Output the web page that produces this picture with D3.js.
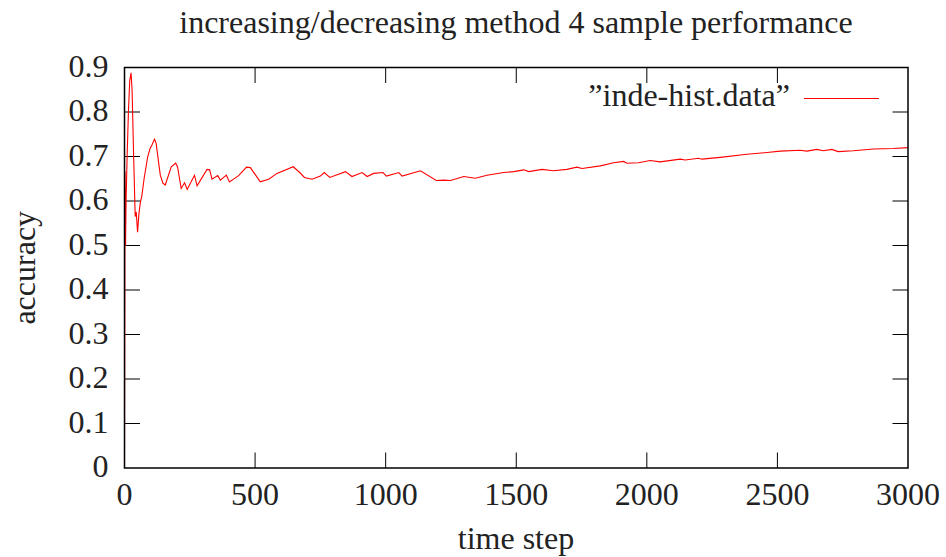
<!DOCTYPE html>
<html>
<head>
<meta charset="utf-8">
<script src="https://cdn.jsdelivr.net/npm/d3@7"></script>
<style>
  body { margin: 0; background: #fff; }
  text { font-family: "Liberation Serif", "Times New Roman", serif; fill: #222; }
</style>
</head>
<body>
<div id="chart"></div>
<script>
// accuracy over time steps
const steps = [0, 2, 4, 6, 10, 15, 20, 25, 29, 35, 41, 45, 50, 55, 61, 66, 75, 89, 98, 105, 115, 121,
  137, 147, 156, 179, 196, 203, 217, 230, 240, 268, 278, 316, 326, 335, 357, 367, 390, 402, 437,
  467, 482, 520, 552, 584, 646, 671, 689, 718, 750, 765, 786, 846, 871, 910, 929, 954, 990, 1003,
  1050, 1063, 1133, 1194, 1222, 1248, 1299, 1343, 1388, 1452, 1490, 1529, 1548, 1599, 1643, 1694,
  1732, 1752, 1822, 1873, 1911, 1924, 1968, 2013, 2051, 2128, 2147, 2198, 2211, 2281, 2383, 2460,
  2511, 2587, 2613, 2651, 2676, 2708, 2733, 2791, 2868, 2944, 3000];
const accuracy = [0, 0.667, 0.5, 0.6, 0.7, 0.8, 0.87, 0.888, 0.85, 0.7, 0.565, 0.575, 0.53, 0.57, 0.598, 0.61, 0.65, 0.70, 0.718, 0.726, 0.739, 0.73,
  0.658, 0.64, 0.636, 0.677, 0.685, 0.677, 0.628, 0.641, 0.626, 0.658, 0.634, 0.671, 0.67, 0.649, 0.657, 0.647, 0.658, 0.643, 0.657,
  0.676, 0.675, 0.643, 0.649, 0.662, 0.677, 0.664, 0.653, 0.649, 0.656, 0.664, 0.653, 0.666, 0.655, 0.664, 0.655, 0.662, 0.664, 0.656,
  0.664, 0.656, 0.668, 0.646, 0.647, 0.646, 0.655, 0.651, 0.658, 0.664, 0.666, 0.67, 0.666, 0.671, 0.668, 0.671,
  0.676, 0.673, 0.679, 0.686, 0.689, 0.685, 0.686, 0.691, 0.688, 0.694, 0.692, 0.696, 0.694, 0.698, 0.705, 0.709,
  0.712, 0.714, 0.712, 0.716, 0.713, 0.716, 0.711, 0.713, 0.717, 0.718, 0.72];
const xTicks = [0, 500, 1000, 1500, 2000, 2500, 3000];
const yTicks = [0, 0.1, 0.2, 0.3, 0.4, 0.5, 0.6, 0.7, 0.8, 0.9];

const width = 946, height = 557;
const margin = {top: 67.5, right: 38, bottom: 89, left: 124.5};
const tickLen = 15.5;
const fontSize = 32;

const svg = d3.select("#chart").append("svg")
  .attr("width", width)
  .attr("height", height);

const x = d3.scaleLinear().domain([0, 3000]).range([margin.left, width - margin.right]);
const y = d3.scaleLinear().domain([0, 0.9]).range([height - margin.bottom, margin.top]);

// inward ticks on all four sides (mirrored)
svg.append("g").selectAll("line")
  .data(xTicks.slice(1, -1))
  .enter().append("line")
  .attr("x1", d => x(d)).attr("x2", d => x(d))
  .attr("y1", y(0)).attr("y2", y(0) - tickLen)
  .attr("stroke", "#000");
svg.append("g").selectAll("line")
  .data(xTicks.slice(1, -1))
  .enter().append("line")
  .attr("x1", d => x(d)).attr("x2", d => x(d))
  .attr("y1", y(0.9)).attr("y2", y(0.9) + tickLen)
  .attr("stroke", "#000");
svg.append("g").selectAll("line")
  .data(yTicks.slice(1, -1))
  .enter().append("line")
  .attr("x1", x(0)).attr("x2", x(0) + tickLen)
  .attr("y1", d => y(d)).attr("y2", d => y(d))
  .attr("stroke", "#000");
svg.append("g").selectAll("line")
  .data(yTicks.slice(1, -1))
  .enter().append("line")
  .attr("x1", x(3000)).attr("x2", x(3000) - tickLen)
  .attr("y1", d => y(d)).attr("y2", d => y(d))
  .attr("stroke", "#000");

// tick labels
svg.append("g").selectAll("text")
  .data(yTicks)
  .enter().append("text")
  .attr("x", x(0) - 16)
  .attr("y", d => y(d) + 9)
  .attr("text-anchor", "end")
  .style("font-size", fontSize + "px")
  .text(d => d === 0 ? "0" : d3.format(".1f")(d));

svg.append("g").selectAll("text")
  .data(xTicks)
  .enter().append("text")
  .attr("x", d => x(d))
  .attr("y", y(0) + 37)
  .attr("text-anchor", "middle")
  .style("font-size", fontSize + "px")
  .text(d => d);

// data line
const line = d3.line()
  .x((d, i) => x(d))
  .y((d, i) => y(accuracy[i]));

svg.append("path")
  .datum(steps)
  .attr("d", line)
  .attr("fill", "none")
  .attr("stroke", "#ff0000")
  .attr("stroke-width", 1.1);

// frame
svg.append("rect")
  .attr("x", x(0)).attr("y", y(0.9))
  .attr("width", x(3000) - x(0))
  .attr("height", y(0) - y(0.9))
  .attr("fill", "none")
  .attr("stroke", "#000")
  .attr("stroke-width", 1.5);

// legend
svg.append("text")
  .attr("x", 790)
  .attr("y", 106)
  .attr("text-anchor", "end")
  .style("font-size", fontSize + "px")
  .text("\u201Dinde-hist.data\u201D");
svg.append("line")
  .attr("x1", 804).attr("x2", 879)
  .attr("y1", 98.5).attr("y2", 98.5)
  .attr("stroke", "#ff0000")
  .attr("stroke-width", 1.1);

// titles
svg.append("text")
  .attr("x", 516)
  .attr("y", 33)
  .attr("text-anchor", "middle")
  .style("font-size", fontSize + "px")
  .text("increasing/decreasing method 4 sample performance");

svg.append("text")
  .attr("x", 516)
  .attr("y", 549)
  .attr("text-anchor", "middle")
  .style("font-size", fontSize + "px")
  .text("time step");

svg.append("text")
  .attr("transform", "translate(35," + ((y(0) + y(0.9)) / 2) + ") rotate(-90)")
  .attr("text-anchor", "middle")
  .style("font-size", fontSize + "px")
  .text("accuracy");
</script>
</body>
</html>
